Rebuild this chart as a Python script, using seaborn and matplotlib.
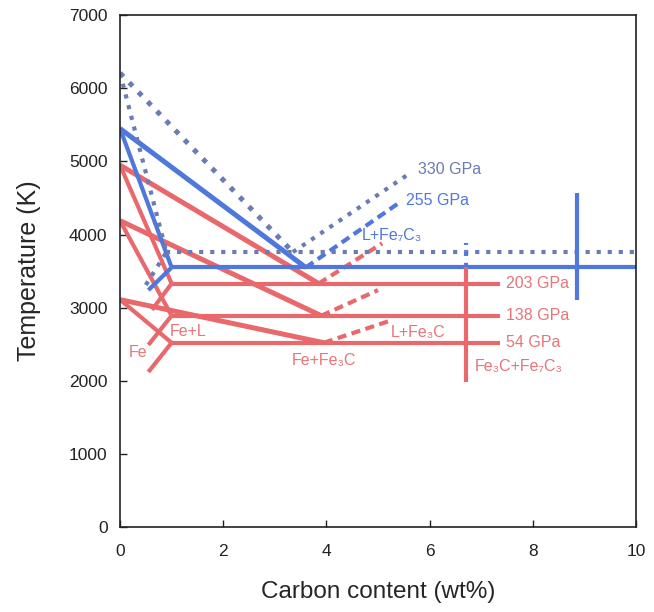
import numpy as np
import pandas as pd
import seaborn as sns
import matplotlib.pyplot as plt

# melting relations of Fe-C at several pressures
pressures = ['54 GPa', '138 GPa', '203 GPa', '255 GPa', '330 GPa']
t_melt = [3110, 4190, 4950, 5450, 6210]        # pure Fe melting (K)
t_eut = [2520, 2890, 3330, 3550, 3760]         # eutectic temperature (K)
x_eut = [3.95, 3.9, 3.85, 3.6, 3.35]           # eutectic composition (wt%)
x_kink = [1.0, 1.0, 1.0, 1.0, 0.9]             # max C solubility in Fe
x_sol_end = [0.55, 0.55, 0.62, 0.55, 0.5]
t_sol_end = [2120, 2490, 2970, 3240, 3310]
x_liq_end = [5.23, 5.0, 5.08, 5.43, 5.62]      # carbide liquidus, dashed
t_liq_end = [2820, 3240, 3880, 4445, 4840]
x_eut_end = [7.36, 7.36, 7.36, 10.0, 10.0]

# vertical carbide lines
x_fe3c = 6.7
t_fe3c = [1980, 3550]
t_fe3c_hi = [3550, 3880]
x_fe7c3 = 8.85
t_fe7c3 = [3100, 4570]

red = '#e8686c'
blue = '#4f78dc'
grey = '#6b7bb3'
colors = [red, red, red, blue, grey]

sns.set_style('ticks')
plt.rcParams['font.family'] = ['Liberation Sans', 'DejaVu Sans']

fig = plt.figure(figsize=(6.54, 6.12), dpi=100)
ax = fig.add_axes([0.1835, 0.139, 0.789, 0.836])


def seg(x, y, color, lw=3.0, ls='-'):
    df = pd.DataFrame({'x': x, 'y': y})
    sns.lineplot(data=df, x='x', y='y', sort=False, estimator=None,
                 color=color, lw=lw, ls=ls, ax=ax, solid_capstyle='butt')


for i, p in enumerate(pressures):
    c = colors[i]
    ls = ':' if p == '330 GPa' else '-'
    seg([0, x_eut[i]], [t_melt[i], t_eut[i]], c, 3.6, ls)
    seg([0, x_kink[i]], [t_melt[i], t_eut[i]], c, 3.0, ls)
    seg([x_sol_end[i], x_kink[i]], [t_sol_end[i], t_eut[i]], c, 3.0, ls)
    seg([x_kink[i], x_eut_end[i]], [t_eut[i], t_eut[i]], c, 3.0, ls)
    seg([x_eut[i], x_liq_end[i]], [t_eut[i], t_liq_end[i]], c, 3.0,
        ':' if p == '330 GPa' else (0, (2.2, 1.3)))

seg([x_fe3c, x_fe3c], t_fe3c, red, 3.0)
seg([x_fe3c, x_fe3c], t_fe3c_hi, blue, 3.0, ':')
seg([x_fe7c3, x_fe7c3], t_fe7c3, blue, 3.0)

lab_red = '#e87478'
fs = 11.5
for i in range(3):
    ax.text(7.48, t_eut[i], pressures[i], color=lab_red, fontsize=fs, va='center')
ax.text(x_liq_end[3] + 0.12, t_liq_end[3] + 20, pressures[3], color=blue, fontsize=fs, va='center')
ax.text(x_liq_end[4] + 0.15, t_liq_end[4] + 50, pressures[4], color=grey, fontsize=fs, va='center')

ax.text(5.27, 3990, 'L+Fe₇C₃', color=blue, fontsize=fs, ha='center', va='center')
ax.text(5.25, 2665, 'L+Fe₃C', color=lab_red, fontsize=fs, va='center')
ax.text(3.95, 2283, 'Fe+Fe₃C', color=lab_red, fontsize=fs, ha='center', va='center')
ax.text(6.88, 2190, 'Fe₃C+Fe₇C₃', color=lab_red, fontsize=fs, va='center')
ax.text(0.97, 2680, 'Fe+L', color=lab_red, fontsize=fs, va='center')
ax.text(0.17, 2380, 'Fe', color=lab_red, fontsize=fs, va='center')

ax.set_xlim(0, 10)
ax.set_ylim(0, 7000)
ax.set_xticks([0, 2, 4, 6, 8, 10])
ax.set_yticks(np.arange(0, 7001, 1000))
ax.tick_params(direction='in', length=5, width=1, labelsize=12.5, pad=9,
               colors='#222222')
ax.tick_params(axis='x', pad=12)
for s in ax.spines.values():
    s.set_linewidth(1.2)
    s.set_color('#222222')
ax.set_xlabel('Carbon content (wt%)', fontsize=17.5, labelpad=16)
ax.set_ylabel('Temperature (K)', fontsize=18, labelpad=20)

fig.savefig('out.png', dpi=100)
